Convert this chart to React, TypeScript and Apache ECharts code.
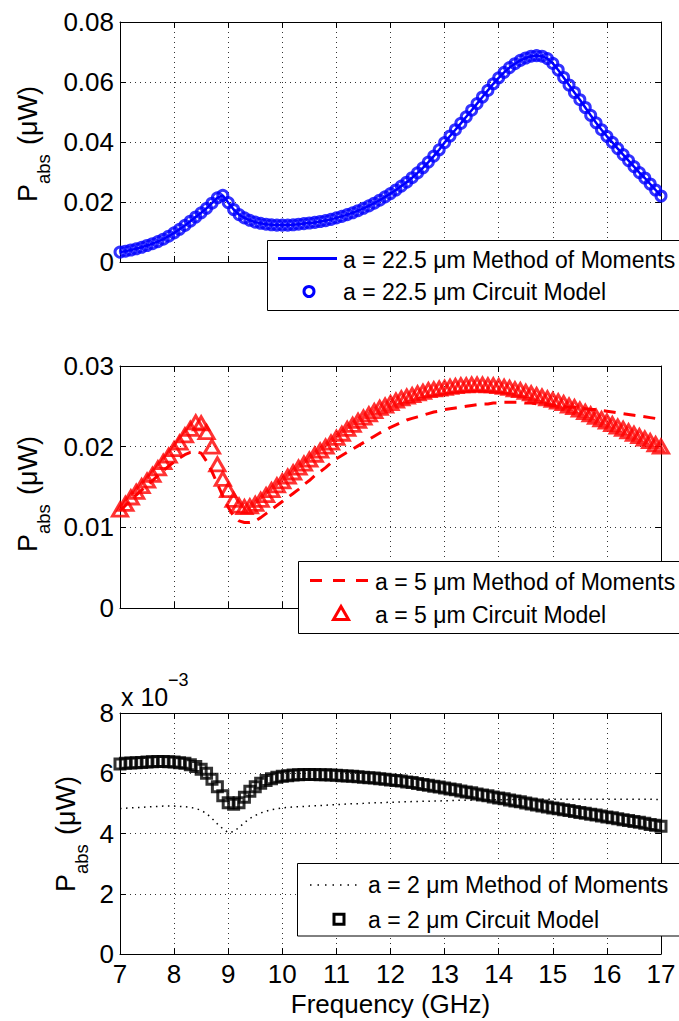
import React, { useEffect, useRef } from "react";
import * as echarts from "echarts";

// Frequency samples (GHz)
const freq = [
  7.0, 7.1, 7.2, 7.3, 7.4, 7.5, 7.6, 7.7, 7.8, 7.9,
  8.0, 8.1, 8.2, 8.3, 8.4, 8.5, 8.6, 8.7, 8.8, 8.9,
  9.0, 9.1, 9.2, 9.3, 9.4, 9.5, 9.6, 9.7, 9.8, 9.9,
  10.0, 10.1, 10.2, 10.3, 10.4, 10.5, 10.6, 10.7, 10.8, 10.9,
  11.0, 11.1, 11.2, 11.3, 11.4, 11.5, 11.6, 11.7, 11.8, 11.9,
  12.0, 12.1, 12.2, 12.3, 12.4, 12.5, 12.6, 12.7, 12.8, 12.9,
  13.0, 13.1, 13.2, 13.3, 13.4, 13.5, 13.6, 13.7, 13.8, 13.9,
  14.0, 14.1, 14.2, 14.3, 14.4, 14.5, 14.6, 14.7, 14.8, 14.9,
  15.0, 15.1, 15.2, 15.3, 15.4, 15.5, 15.6, 15.7, 15.8, 15.9,
  16.0, 16.1, 16.2, 16.3, 16.4, 16.5, 16.6, 16.7, 16.8, 16.9,
  17.0,
];

// a = 22.5 um (uW)
const circuit22 = [
  0.0033, 0.0036, 0.0040, 0.0044, 0.0049, 0.0055, 0.0061, 0.0068, 0.0076, 0.0086,
  0.0097, 0.0109, 0.0122, 0.0136, 0.0150, 0.0164, 0.0179, 0.0196, 0.0214, 0.0222,
  0.0198, 0.0175, 0.0158, 0.0147, 0.0139, 0.0133, 0.0129, 0.0126, 0.0124, 0.0123,
  0.0123, 0.0123, 0.0124, 0.0126, 0.0128, 0.0130, 0.0132, 0.0135, 0.0138, 0.0142,
  0.0147, 0.0152, 0.0158, 0.0164, 0.0171, 0.0179, 0.0187, 0.0196, 0.0206, 0.0217,
  0.0228, 0.0240, 0.0253, 0.0266, 0.0281, 0.0297, 0.0314, 0.0333, 0.0353, 0.0374,
  0.0398, 0.0420, 0.0441, 0.0462, 0.0484, 0.0506, 0.0528, 0.0550, 0.0572, 0.0594,
  0.0614, 0.0632, 0.0648, 0.0661, 0.0672, 0.0680, 0.0686, 0.0688, 0.0686, 0.0678,
  0.0662, 0.0640, 0.0615, 0.0590, 0.0565, 0.0541, 0.0515, 0.0489, 0.0464, 0.0441,
  0.0419, 0.0399, 0.0378, 0.0358, 0.0338, 0.0318, 0.0298, 0.0280, 0.0260, 0.0240,
  0.0220,
];
const mom22 = [
  0.0033, 0.0036, 0.0040, 0.0044, 0.0049, 0.0055, 0.0061, 0.0068, 0.0076, 0.0086,
  0.0097, 0.0109, 0.0122, 0.0136, 0.0150, 0.0164, 0.0179, 0.0196, 0.0214, 0.0222,
  0.0198, 0.0175, 0.0158, 0.0147, 0.0139, 0.0133, 0.0129, 0.0126, 0.0124, 0.0123,
  0.0123, 0.0123, 0.0124, 0.0126, 0.0128, 0.0130, 0.0132, 0.0135, 0.0138, 0.0142,
  0.0147, 0.0152, 0.0158, 0.0164, 0.0171, 0.0179, 0.0187, 0.0196, 0.0206, 0.0217,
  0.0228, 0.0240, 0.0253, 0.0266, 0.0281, 0.0297, 0.0314, 0.0333, 0.0353, 0.0374,
  0.0398, 0.0420, 0.0441, 0.0462, 0.0484, 0.0506, 0.0528, 0.0550, 0.0572, 0.0594,
  0.0614, 0.0632, 0.0648, 0.0661, 0.0672, 0.0680, 0.0686, 0.0688, 0.0686, 0.0678,
  0.0662, 0.0640, 0.0615, 0.0590, 0.0565, 0.0541, 0.0515, 0.0489, 0.0464, 0.0441,
  0.0419, 0.0399, 0.0378, 0.0358, 0.0338, 0.0318, 0.0298, 0.0280, 0.0260, 0.0240,
  0.0220,
];

// a = 5 um (uW)
const circuit5 = [
  0.0122, 0.0129, 0.0137, 0.0144, 0.0151, 0.0158, 0.0165, 0.0173, 0.0181, 0.0189,
  0.0197, 0.0205, 0.0214, 0.0222, 0.0230, 0.0229, 0.0218, 0.0200, 0.0178, 0.0160,
  0.0146, 0.0134, 0.0127, 0.0125, 0.0126, 0.0129, 0.0134, 0.0140, 0.0146, 0.0152,
  0.0157, 0.0163, 0.0168, 0.0174, 0.0179, 0.0184, 0.0190, 0.0195, 0.0200, 0.0205,
  0.0211, 0.0216, 0.0222, 0.0227, 0.0232, 0.0236, 0.0240, 0.0244, 0.0248, 0.0251,
  0.0254, 0.0257, 0.0260, 0.0262, 0.0264, 0.0266, 0.0268, 0.0270, 0.0271, 0.0272,
  0.0273, 0.0274, 0.0275, 0.0276, 0.0276, 0.0277, 0.0277, 0.0277, 0.0276, 0.0276,
  0.0275, 0.0274, 0.0273, 0.0271, 0.0270, 0.0268, 0.0266, 0.0264, 0.0262, 0.0260,
  0.0258, 0.0256, 0.0254, 0.0251, 0.0249, 0.0246, 0.0243, 0.0240, 0.0237, 0.0234,
  0.0231, 0.0228, 0.0225, 0.0222, 0.0219, 0.0216, 0.0213, 0.0210, 0.0207, 0.0203,
  0.0200,
];
const mom5 = [
  0.0121, 0.0127, 0.0134, 0.0140, 0.0146, 0.0152, 0.0158, 0.0164, 0.0170, 0.0176,
  0.0181, 0.0186, 0.0190, 0.0193, 0.0194, 0.0192, 0.0182, 0.0169, 0.0154, 0.0139,
  0.0125, 0.0114, 0.0108, 0.0106, 0.0106, 0.0108, 0.0112, 0.0117, 0.0122, 0.0127,
  0.0132, 0.0137, 0.0142, 0.0147, 0.0153, 0.0158, 0.0164, 0.0169, 0.0174, 0.0180,
  0.0185, 0.0189, 0.0193, 0.0197, 0.0201, 0.0205, 0.0209, 0.0213, 0.0217, 0.0220,
  0.0224, 0.0227, 0.0230, 0.0233, 0.0235, 0.0237, 0.0239, 0.0241, 0.0243, 0.0244,
  0.0246, 0.0247, 0.0248, 0.0249, 0.0250, 0.0251, 0.0252, 0.0253, 0.0253, 0.0254,
  0.0254, 0.0255, 0.0255, 0.0255, 0.0255, 0.0254, 0.0254, 0.0253, 0.0253, 0.0252,
  0.0251, 0.0251, 0.0250, 0.0249, 0.0249, 0.0248, 0.0247, 0.0246, 0.0246, 0.0245,
  0.0244, 0.0243, 0.0242, 0.0241, 0.0240, 0.0239, 0.0238, 0.0237, 0.0236, 0.0235,
  0.0234,
];

// a = 2 um (x 10^-3 uW)
const circuit2 = [
  6.31, 6.33, 6.34, 6.35, 6.36, 6.37, 6.38, 6.39, 6.39, 6.38,
  6.37, 6.35, 6.33, 6.28, 6.22, 6.13, 6.00, 5.80, 5.55, 5.25,
  5.02, 4.97, 5.02, 5.20, 5.40, 5.55, 5.67, 5.76, 5.82, 5.87,
  5.90, 5.92, 5.94, 5.95, 5.96, 5.96, 5.96, 5.95, 5.95, 5.94,
  5.93, 5.92, 5.91, 5.90, 5.88, 5.87, 5.85, 5.84, 5.82, 5.80,
  5.78, 5.76, 5.74, 5.71, 5.69, 5.66, 5.63, 5.60, 5.57, 5.54,
  5.51, 5.48, 5.45, 5.41, 5.38, 5.35, 5.31, 5.28, 5.25, 5.21,
  5.18, 5.15, 5.11, 5.08, 5.05, 5.01, 4.98, 4.95, 4.91, 4.88,
  4.85, 4.82, 4.79, 4.76, 4.73, 4.70, 4.67, 4.64, 4.61, 4.58,
  4.55, 4.52, 4.49, 4.46, 4.43, 4.40, 4.37, 4.34, 4.30, 4.27,
  4.24,
];
const mom2 = [
  4.83, 4.84, 4.85, 4.86, 4.87, 4.88, 4.89, 4.90, 4.91, 4.91,
  4.91, 4.90, 4.89, 4.87, 4.83, 4.77, 4.66, 4.50, 4.32, 4.16,
  4.03, 4.06, 4.20, 4.36, 4.50, 4.60, 4.68, 4.74, 4.79, 4.82,
  4.85, 4.87, 4.88, 4.89, 4.90, 4.91, 4.92, 4.93, 4.94, 4.95,
  4.96, 4.97, 4.98, 4.99, 4.99, 5.00, 5.01, 5.02, 5.02, 5.03,
  5.04, 5.04, 5.05, 5.05, 5.06, 5.06, 5.07, 5.07, 5.08, 5.08,
  5.09, 5.09, 5.10, 5.10, 5.10, 5.11, 5.11, 5.11, 5.12, 5.12,
  5.12, 5.12, 5.13, 5.13, 5.13, 5.13, 5.13, 5.14, 5.14, 5.14,
  5.14, 5.14, 5.14, 5.14, 5.14, 5.14, 5.14, 5.14, 5.14, 5.14,
  5.14, 5.14, 5.14, 5.14, 5.14, 5.14, 5.14, 5.14, 5.14, 5.13,
  5.13,
];

const legendLabels = [
  ["a = 22.5 μm Method of Moments", "a = 22.5 μm Circuit Model"],
  ["a = 5 μm Method of Moments", "a = 5 μm Circuit Model"],
  ["a = 2 μm Method of Moments", "a = 2 μm Circuit Model"],
];
const yMaxes = [0.08, 0.03, 8];
const ySteps = [0.02, 0.01, 2];
const xTitle = "Frequency (GHz)";

const FONT = "'Liberation Sans', Arial, Helvetica, sans-serif";

const zip = (xs: number[], ys: number[]) => xs.map((x, i) => [x, ys[i]]);

function buildOption() {
  const grids = [
    { left: 120, top: 22, width: 541, height: 240 },
    { left: 120, top: 366, width: 541, height: 242 },
    { left: 120, top: 713, width: 541, height: 241 },
  ];
  const axisLine = { show: true, onZero: false, lineStyle: { color: "#000", width: 1 } };
  const tick = { show: true, inside: true, length: 6, lineStyle: { color: "#000", width: 1 } };
  const split = { show: true, lineStyle: { color: "#333", width: 1, type: [1, 4] } };
  const xAxes: any[] = [];
  const yAxes: any[] = [];
  grids.forEach((g, i) => {
    const last = i === 2;
    xAxes.push({
      type: "value", gridIndex: i, position: "bottom", min: 7, max: 17, interval: 1,
      axisLine, axisTick: tick, splitLine: split,
      axisLabel: { show: last, margin: 7, color: "#000", fontSize: 26, lineHeight: 26, fontFamily: FONT },
      name: last ? xTitle : "", nameLocation: "middle", nameGap: 37,
      nameTextStyle: { color: "#000", fontSize: 26, lineHeight: 26, fontFamily: FONT },
    });
    xAxes.push({
      type: "value", gridIndex: i, position: "top", min: 7, max: 17, interval: 1,
      axisLine, axisTick: tick, splitLine: { show: false }, axisLabel: { show: false },
    });
    yAxes.push({
      type: "value", gridIndex: i, position: "left", min: 0, max: yMaxes[i], interval: ySteps[i],
      axisLine, axisTick: tick, splitLine: split,
      axisLabel: { show: true, margin: 6, color: "#000", fontSize: 26, fontFamily: FONT },
    });
    yAxes.push({
      type: "value", gridIndex: i, position: "right", min: 0, max: yMaxes[i], interval: ySteps[i],
      axisLine, axisTick: tick, splitLine: { show: false }, axisLabel: { show: false },
    });
  });

  const series: any[] = [
    {
      type: "line", name: legendLabels[0][0], xAxisIndex: 0, yAxisIndex: 0, data: zip(freq, mom22),
      symbol: "none", clip: false, lineStyle: { color: "#0000ff", width: 2.5 }, z: 2,
    },
    {
      type: "scatter", name: legendLabels[0][1], xAxisIndex: 0, yAxisIndex: 0, data: zip(freq, circuit22),
      symbol: "circle", symbolSize: 10, clip: false,
      itemStyle: { color: "transparent", borderColor: "#0000ff", borderWidth: 3 }, z: 3,
    },
    {
      type: "line", name: legendLabels[1][0], xAxisIndex: 2, yAxisIndex: 2, data: zip(freq, mom5),
      symbol: "none", clip: false, lineStyle: { color: "#ff0000", width: 3, type: [12, 8] }, z: 2,
    },
    {
      type: "scatter", name: legendLabels[1][1], xAxisIndex: 2, yAxisIndex: 2, data: zip(freq, circuit5),
      symbol: "triangle", symbolSize: [15, 13], clip: false,
      itemStyle: { color: "transparent", borderColor: "#ff0000", borderWidth: 3 }, z: 3,
    },
    {
      type: "line", name: legendLabels[2][0], xAxisIndex: 4, yAxisIndex: 4, data: zip(freq, mom2),
      symbol: "none", clip: false, lineStyle: { color: "#000", width: 1.5, type: [1.5, 4.5] }, z: 2,
    },
    {
      type: "scatter", name: legendLabels[2][1], xAxisIndex: 4, yAxisIndex: 4, data: zip(freq, circuit2),
      symbol: "rect", symbolSize: 10, clip: false,
      itemStyle: { color: "transparent", borderColor: "#000", borderWidth: 3 }, z: 3,
    },
  ];

  const txt = (x: number, y: number, text: string, size: number, extra: any = {}) => ({
    type: "text", x, y, z: 101,
    style: { text, fontSize: size, fontFamily: FONT, fill: "#000", align: "left", verticalAlign: "middle", ...extra },
  });

  const yTitle = (x: number, y: number) => ({
    type: "group", x, y, rotation: Math.PI / 2, z: 101,
    children: [
      { type: "text", x: 0, y: 0, style: { text: "P", fontSize: 27, fontFamily: FONT, fill: "#000", align: "left", verticalAlign: "middle" } },
      { type: "text", x: 18, y: 15.5, style: { text: "abs", fontSize: 18.5, fontFamily: FONT, fill: "#000", align: "left", verticalAlign: "middle" } },
      { type: "text", x: 57, y: 0, style: { text: "(μW)", fontSize: 27, fontFamily: FONT, fill: "#000", align: "left", verticalAlign: "middle" } },
    ],
  });

  const box = (x: number, y: number, h: number) => ({
    type: "rect", z: 100, shape: { x, y, width: 440, height: h },
    style: { fill: "#fff", stroke: "#000", lineWidth: 1 },
  });

  const graphic: any[] = [
    yTitle(28, 202),
    yTitle(28, 552),
    yTitle(65.5, 892),
    txt(121, 697, "x 10", 25),
    txt(168, 680, "−3", 18),
    // legend 1
    box(267.5, 240.5, 70),
    { type: "line", z: 101, shape: { x1: 278, y1: 258.5, x2: 337, y2: 258.5 }, style: { stroke: "#0000ff", lineWidth: 3 } },
    { type: "circle", z: 101, shape: { cx: 309, cy: 291.5, r: 5 }, style: { fill: "none", stroke: "#0000ff", lineWidth: 3 } },
    txt(343, 259.5, legendLabels[0][0], 23),
    txt(343, 291.5, legendLabels[0][1], 23),
    // legend 2
    box(298.5, 561.5, 72),
    { type: "line", z: 101, shape: { x1: 310, y1: 580.5, x2: 368, y2: 580.5 }, style: { stroke: "#ff0000", lineWidth: 3, lineDash: [12, 11] } },
    { type: "polygon", z: 101, shape: { points: [[333.5, 619.5], [348.5, 619.5], [341, 606.5]] }, style: { fill: "none", stroke: "#ff0000", lineWidth: 3 } },
    txt(375, 581.5, legendLabels[1][0], 23),
    txt(375, 615, legendLabels[1][1], 23),
    // legend 3
    box(297.5, 863.5, 72.5),
    { type: "line", z: 101, shape: { x1: 310, y1: 885, x2: 358, y2: 885 }, style: { stroke: "#000", lineWidth: 1.5, lineDash: [1.5, 6] } },
    { type: "rect", z: 101, shape: { x: 334, y: 914.3, width: 10, height: 10 }, style: { fill: "none", stroke: "#000", lineWidth: 3 } },
    txt(368, 885, legendLabels[2][0], 23),
    txt(368, 919.5, legendLabels[2][1], 23),
  ];

  return {
    animation: false,
    backgroundColor: "#fff",
    grid: grids,
    xAxis: xAxes,
    yAxis: yAxes,
    series,
    graphic,
  };
}

export default function App() {
  const ref = useRef<HTMLDivElement>(null);
  useEffect(() => {
    if (!ref.current) return;
    const chart = echarts.init(ref.current, undefined, { renderer: "svg" });
    chart.setOption(buildOption() as any);
    return () => chart.dispose();
  }, []);
  return (
    <div
      ref={ref}
      style={{ position: "fixed", left: 0, top: 0, width: 679, height: 1021, background: "#fff" }}
    />
  );
}
